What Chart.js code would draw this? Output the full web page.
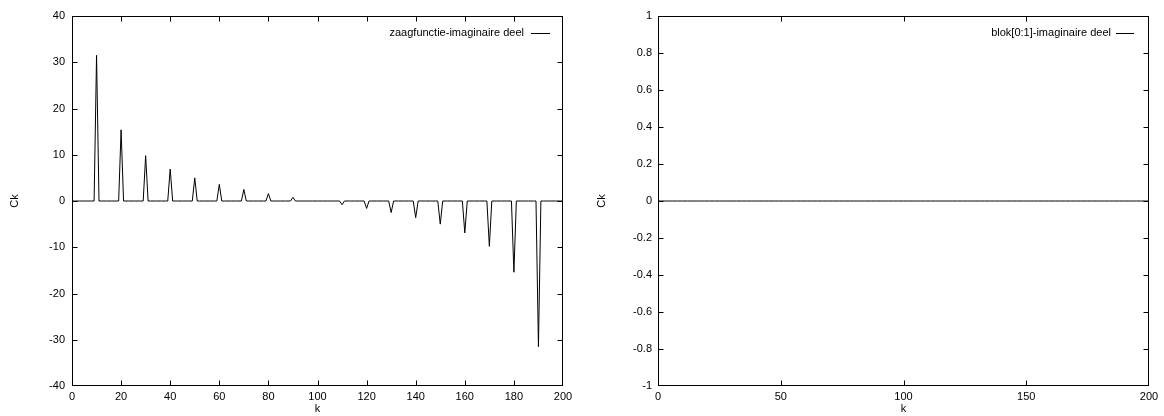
<!DOCTYPE html>
<html>
<head>
<meta charset="utf-8">
<script src="https://cdn.jsdelivr.net/npm/chart.js@4/dist/chart.umd.min.js"></script>
<style>
  html, body { margin: 0; padding: 0; background: #fff; }
  body { width: 1164px; height: 416px; position: relative; overflow: hidden; }
  .box { position: absolute; top: 0; width: 582px; height: 416px; }
  #b1 { left: 0; }
  #b2 { left: 582px; }
</style>
</head>
<body>
<div class="box" id="b1"><canvas id="c1" width="582" height="416"></canvas></div>
<div class="box" id="b2"><canvas id="c2" width="582" height="416"></canvas></div>
<script>
// ---- data ----
const kMin = 0;
const kMax = 200;
// non-zero imaginary parts of the sawtooth coefficients (all other k are 0)
const zaagSpikeK  = [10, 20, 30, 40, 50, 60, 70, 80, 90, 110, 120, 130, 140, 150, 160, 170, 180, 190];
const zaagSpikeIm = [31.5, 15.4, 9.8, 6.9, 5.0, 3.6, 2.5, 1.6, 0.8, -0.8, -1.6, -2.5, -3.6, -5.0, -6.9, -9.8, -15.4, -31.5];
// block [0:1]: imaginary part is 0 for every k
const blokImValue = 0;

const zaagLabel = 'zaagfunctie-imaginaire deel';
const blokLabel = 'blok[0:1]-imaginaire deel';

const xTicksLeft  = [0, 20, 40, 60, 80, 100, 120, 140, 160, 180, 200];
const yTicksLeft  = [-40, -30, -20, -10, 0, 10, 20, 30, 40];
const xTicksRight = [0, 50, 100, 150, 200];
const yTicksRight = [-1, -0.8, -0.6, -0.4, -0.2, 0, 0.2, 0.4, 0.6, 0.8, 1];

// ---- build point lists ----
const kList = [];
for (let k = kMin; k <= kMax; k++) kList.push(k);
const zaagData = kList.map(k => {
  const i = zaagSpikeK.indexOf(k);
  return { x: k, y: i >= 0 ? zaagSpikeIm[i] : 0 };
});
const blokData = kList.map(k => ({ x: k, y: blokImValue }));

const FONT = { family: '"Liberation Sans", Arial, Helvetica, sans-serif', size: 11 };

const framePlugin = {
  id: 'frame',
  afterDraw(chart, args, opts) {
    const { ctx, chartArea: { left, right, top, bottom }, scales: { x, y } } = chart;
    ctx.save();
    ctx.strokeStyle = '#000';
    ctx.lineWidth = 1;
    const L = left + 0.5, R = right - 0.5, T = top + 0.5, B = bottom - 0.5;
    const tl = 5;
    const clamp = (v, a, b) => Math.min(Math.max(v, a), b);
    ctx.beginPath();
    x.ticks.forEach(t => {
      const px = clamp(Math.round(x.getPixelForValue(t.value)) + 0.5, L, R);
      ctx.moveTo(px, B); ctx.lineTo(px, B - tl);
      ctx.moveTo(px, T); ctx.lineTo(px, T + tl);
    });
    y.ticks.forEach(t => {
      const py = clamp(Math.round(y.getPixelForValue(t.value)) + 0.5, T, B);
      ctx.moveTo(L, py); ctx.lineTo(L + tl, py);
      ctx.moveTo(R, py); ctx.lineTo(R - tl, py);
    });
    ctx.stroke();
    ctx.strokeRect(L, T, R - L, B - T);
    // key (legend) top-right inside the plot
    const ly = top + 17;
    ctx.font = FONT.size + 'px ' + FONT.family;
    ctx.fillStyle = '#000';
    ctx.textAlign = 'right';
    ctx.textBaseline = 'middle';
    ctx.fillText(opts.label, right - opts.textGap, ly);
    ctx.beginPath();
    ctx.moveTo(right - opts.lineStart, Math.round(ly) + 0.5);
    ctx.lineTo(right - opts.lineEnd, Math.round(ly) + 0.5);
    ctx.stroke();
    ctx.restore();
  }
};

function makeChart(canvasId, data, label, xTicks, yTicks, dims) {
  return new Chart(document.getElementById(canvasId), {
    type: 'line',
    data: {
      datasets: [{
        label: label,
        data: data,
        borderColor: '#000',
        borderWidth: 1,
        pointRadius: 0,
        tension: 0,
        fill: false
      }]
    },
    options: {
      responsive: false,
      animation: false,
      parsing: false,
      layout: { padding: { left: 0, right: dims.padRight, top: 16, bottom: 0 } },
      plugins: {
        legend: { display: false },
        tooltip: { enabled: false },
        frame: { label: label, textGap: dims.textGap, lineStart: dims.lineStart, lineEnd: dims.lineEnd }
      },
      scales: {
        x: {
          type: 'linear',
          min: xTicks[0],
          max: xTicks[xTicks.length - 1],
          afterBuildTicks: s => { s.ticks = xTicks.map(v => ({ value: v })); },
          afterFit: s => { s.height = 30; },
          grid: { display: false, drawTicks: false },
          border: { display: false },
          ticks: { color: '#000', font: FONT, padding: 4, maxRotation: 0, autoSkip: false, callback: v => String(v) },
          title: { display: true, text: 'k', color: '#000', font: FONT, padding: { top: 0, bottom: 0 } }
        },
        y: {
          type: 'linear',
          min: yTicks[0],
          max: yTicks[yTicks.length - 1],
          afterBuildTicks: s => { s.ticks = yTicks.map(v => ({ value: v })); },
          afterFit: s => { s.width = dims.yWidth; },
          grid: { display: false, drawTicks: false },
          border: { display: false },
          ticks: { color: '#000', font: FONT, padding: dims.yPad, autoSkip: false, callback: v => String(v) },
          title: { display: true, text: 'Ck', color: '#000', font: FONT, padding: { top: dims.titlePad, bottom: 0 } }
        }
      }
    },
    plugins: [framePlugin]
  });
}

makeChart('c1', zaagData, zaagLabel, xTicksLeft, yTicksLeft,
  { padRight: 19, yWidth: 72, yPad: 7, titlePad: 8.4, textGap: 39, lineStart: 32, lineEnd: 13 });
makeChart('c2', blokData, blokLabel, xTicksRight, yTicksRight,
  { padRight: 15, yWidth: 76, yPad: 6, titlePad: 13, textGap: 38, lineStart: 33, lineEnd: 15 });
</script>
</body>
</html>
